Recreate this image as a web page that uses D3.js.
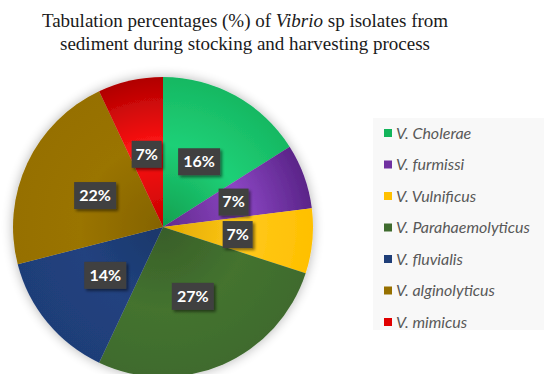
<!DOCTYPE html>
<html>
<head>
<meta charset="utf-8">
<script src="https://cdn.jsdelivr.net/npm/d3@7"></script>
<style>
  body { margin: 0; background: #fff; }
  svg { display: block; }
</style>
</head>
<body>
<script>
// data
var species = ["V. Cholerae", "V. furmissi", "V. Vulnificus", "V. Parahaemolyticus",
               "V. fluvialis", "V. alginolyticus", "V. mimicus"];
var percents = [16, 7, 7, 27, 14, 22, 7];
var sliceColors = ["#12b45a", "#7030a0", "#ffc000", "#3f6b2e", "#1f3e78", "#967000", "#e00000"];
var lightColors = ["#1fd077", "#8a45c2", "#ffc81a", "#44732f", "#21427f", "#9a7400", "#ff1414"];
var edgeColors = ["#16b862", "#5a2488", "#ffc000", "#3f6b2e", "#1f3e78", "#967000", "#b00000"];

var width = 544, height = 374;
var cx = 163, cy = 227, radius = 150;

var svg = d3.select("body").append("svg")
    .attr("width", width)
    .attr("height", height);

var defs = svg.append("defs");

// soft shadow round the pie
var sh = defs.append("filter").attr("id", "pieShadow")
    .attr("x", "-20%").attr("y", "-20%").attr("width", "140%").attr("height", "140%");
sh.append("feGaussianBlur").attr("in", "SourceAlpha").attr("stdDeviation", 6);
sh.append("feComponentTransfer").append("feFuncA").attr("type", "linear").attr("slope", 0.3);
var m = sh.append("feMerge");
m.append("feMergeNode");
m.append("feMergeNode").attr("in", "SourceGraphic");

var lsh = defs.append("filter").attr("id", "lblShadow")
    .attr("x", "-30%").attr("y", "-30%").attr("width", "160%").attr("height", "160%");
lsh.append("feGaussianBlur").attr("in", "SourceAlpha").attr("stdDeviation", 1.5);
lsh.append("feOffset").attr("dx", 2).attr("dy", 2);
lsh.append("feComponentTransfer").append("feFuncA").attr("type", "linear").attr("slope", 0.5);
var m2 = lsh.append("feMerge");
m2.append("feMergeNode");
m2.append("feMergeNode").attr("in", "SourceGraphic");

// radial gradients per slice, centred on the pie centre
sliceColors.forEach(function (c, i) {
    var gr = defs.append("radialGradient").attr("id", "grad" + i)
        .attr("gradientUnits", "userSpaceOnUse")
        .attr("cx", 0).attr("cy", 0).attr("r", radius);
    gr.append("stop").attr("offset", "0%").attr("stop-color", d3.color(c).darker(0.35));
    gr.append("stop").attr("offset", "55%").attr("stop-color", lightColors[i]);
    gr.append("stop").attr("offset", "100%").attr("stop-color", edgeColors[i]);
});

// title
var title = svg.append("text")
    .attr("text-anchor", "middle")
    .style("font-family", "'Liberation Serif', 'Times New Roman', serif")
    .style("font-size", "19px")
    .attr("fill", "#1a1a1a");
var t1 = title.append("tspan").attr("x", 245).attr("y", 27);
t1.append("tspan").text("Tabulation percentages (%) of ");
t1.append("tspan").style("font-style", "italic").text("Vibrio");
t1.append("tspan").text(" sp isolates from");
title.append("tspan").attr("x", 245).attr("y", 50)
    .text("sediment during stocking and harvesting process");

// pie
var pie = d3.pie().sort(null).value(function (d) { return d; });
var arc = d3.arc().innerRadius(0).outerRadius(radius);
var labelArc = d3.arc().innerRadius(radius * 0.5).outerRadius(radius * 0.5);

var arcs = pie(percents);

var g = svg.append("g")
    .attr("transform", "translate(" + cx + "," + cy + ")");

g.append("g").attr("filter", "url(#pieShadow)")
    .selectAll("path")
    .data(arcs)
    .enter()
    .append("path")
    .attr("d", arc)
    .attr("fill", function (d, i) { return "url(#grad" + i + ")"; });

// data labels
var labels = g.selectAll(".lbl")
    .data(arcs)
    .enter()
    .append("g")
    .attr("class", "lbl")
    .attr("transform", function (d) {
        var p = labelArc.centroid(d);
        return "translate(" + p[0] + "," + p[1] + ")";
    });

labels.append("rect")
    .attr("x", function (d) { return d.data >= 10 ? -21 : -15; })
    .attr("y", -13)
    .attr("width", function (d) { return d.data >= 10 ? 42 : 30; })
    .attr("height", 27)
    .attr("fill", "#404040")
    .attr("filter", "url(#lblShadow)");

labels.append("text")
    .attr("text-anchor", "middle")
    .attr("dy", "0.36em")
    .style("font-family", "Lato, 'Open Sans', sans-serif")
    .style("font-weight", "bold")
    .style("font-size", "16px")
    .attr("fill", "#ffffff")
    .text(function (d) { return d.data + "%"; });

// legend
var legend = svg.append("g");
legend.append("rect")
    .attr("x", 373).attr("y", 118)
    .attr("width", 171).attr("height", 212)
    .attr("fill", "#f8f8f8");

var ly = d3.scalePoint().domain(species).range([133, 322]);

var items = legend.selectAll(".item")
    .data(species)
    .enter()
    .append("g")
    .attr("class", "item")
    .attr("transform", function (d) { return "translate(384," + ly(d) + ")"; });

items.append("rect")
    .attr("x", 0).attr("y", -4)
    .attr("width", 8).attr("height", 8)
    .attr("fill", function (d, i) { return sliceColors[i]; });

items.append("text")
    .attr("x", 12)
    .attr("dy", "0.36em")
    .style("font-family", "Lato, 'Open Sans', sans-serif")
    .style("font-style", "italic")
    .style("font-size", "16px")
    .attr("fill", "#595959")
    .text(function (d) { return d; });
</script>
</body>
</html>
